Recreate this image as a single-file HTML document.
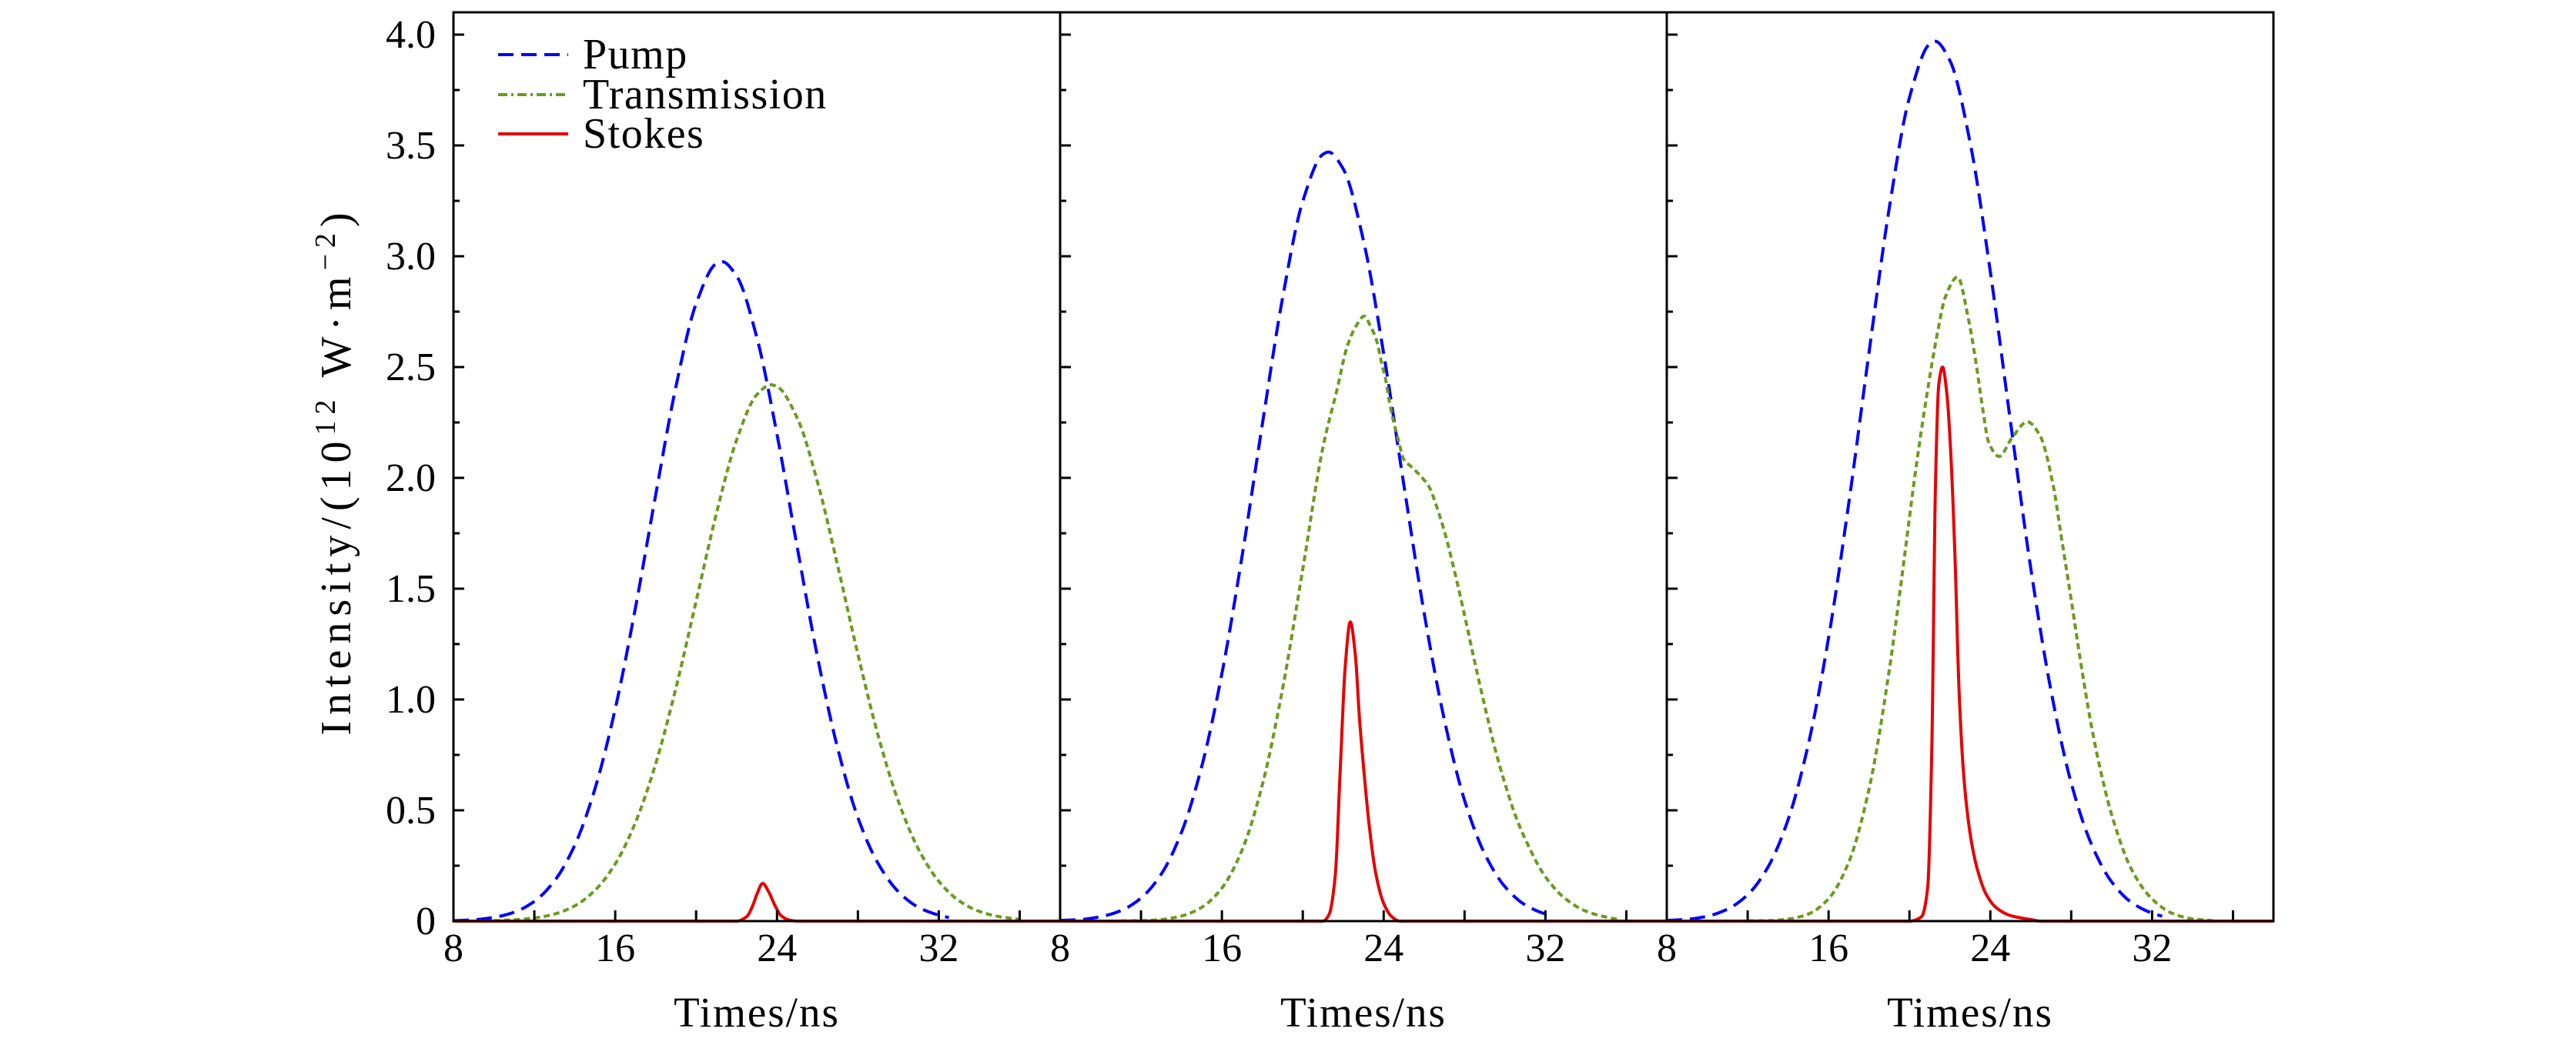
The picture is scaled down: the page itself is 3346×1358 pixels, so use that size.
<!DOCTYPE html>
<html><head><meta charset="utf-8"><style>
html,body{margin:0;padding:0;background:#fff;}
svg{display:block;font-family:"Liberation Serif",serif;}
</style></head><body>
<svg id="chart" xmlns="http://www.w3.org/2000/svg" width="3346" height="1358" viewBox="0 0 3346 1358">
<g id="curves"></g>
<g id="axes"></g>
<text transform="translate(455,612) rotate(-90)" text-anchor="middle" font-size="56" letter-spacing="8">Intensity/(10<tspan font-size="38" dy="-20">12</tspan><tspan dy="20"> W·m</tspan><tspan font-size="38" dy="-20">−2</tspan><tspan dy="20">)</tspan></text>
<g>
<line x1="647" y1="71" x2="738" y2="71" stroke="#0000ff" stroke-width="4" stroke-dasharray="20 10"/>
<text x="757" y="89" font-size="56" letter-spacing="1.5">Pump</text>
<line x1="647" y1="123" x2="738" y2="123" stroke="#6b9b1e" stroke-width="4" stroke-dasharray="12 5 3 5"/>
<text x="757" y="141" font-size="56" letter-spacing="1.5">Transmission</text>
<line x1="647" y1="174" x2="738" y2="174" stroke="#e60000" stroke-width="4"/>
<text x="757" y="192" font-size="56" letter-spacing="1.5">Stokes</text>
</g>
</svg>
<script>
// ---- data (time in ns, intensity in 1e12 W/m^2) ----
const pumpT1 = [8,9,10,11,12,13,14,15,16,17,18,19,20,21,21.27,22,23,24,25,26,27,28,29,30,31,32,32.5];
const pumpV1 = [0.002,0.006,0.017,0.040,0.089,0.182,0.343,0.598,0.958,1.414,1.923,2.411,2.786,2.967,2.976,2.911,2.634,2.196,1.687,1.193,0.780,0.467,0.260,0.133,0.062,0.027,0.016];
const pumpT2 = [8,9,10,11,12,13,14,15,16,17,18,19,20,21,21.27,22,23,24,25,26,27,28,29,30,31,32,32.4];
const pumpV2 = [0.003,0.007,0.020,0.047,0.104,0.212,0.400,0.697,1.117,1.648,2.242,2.811,3.248,3.460,3.470,3.394,3.071,2.561,1.967,1.391,0.909,0.545,0.303,0.155,0.073,0.032,0.022];
const pumpT3 = [8,9,10,11,12,13,14,15,16,17,18,19,20,21,21.27,22,23,24,25,26,27,28,29,30,31,32,32.5];
const pumpV3 = [0.003,0.008,0.022,0.054,0.119,0.243,0.458,0.798,1.278,1.886,2.565,3.216,3.716,3.958,3.970,3.883,3.513,2.930,2.251,1.592,1.040,0.623,0.347,0.177,0.083,0.036,0.022];

const transT1 = [10,11,12,13,14,15,16,17,18,19,20,21,22,23,23.7,24,25,26,27,28,29,30,31,32,33,34,35,36];
const transV1 = [0.002,0.006,0.014,0.032,0.069,0.139,0.258,0.445,0.710,1.051,1.443,1.838,2.170,2.375,2.420,2.412,2.270,1.982,1.604,1.204,0.838,0.541,0.324,0.180,0.092,0.044,0.020,0.008];
const transT2 = [11,12,13,14,15,16,17,18,19,20,21,21.69,22.2,22.64,23.04,23.34,23.66,23.91,24.1,24.29,24.48,24.74,24.99,25.37,25.88,26.26,26.64,27,27.5,28,28.5,29,29.5,30,30.5,31,32,33,34,35,35.6];
const transV2 = [0.001,0.002,0.007,0.023,0.062,0.149,0.321,0.615,1.048,1.588,2.139,2.397,2.594,2.686,2.730,2.686,2.617,2.513,2.443,2.340,2.258,2.166,2.084,2.050,2.003,1.957,1.865,1.760,1.580,1.380,1.170,0.970,0.780,0.620,0.480,0.370,0.200,0.100,0.045,0.018,0.008];
const transT3 = [12,13,14,15,16,17,18,19,19.5,20,20.22,20.75,21.39,21.77,22.38,22.91,23.29,23.61,23.92,24.43,25.07,25.83,26.46,27.1,27.5,28,28.5,29,29.5,30,31,32,33,34,35];
const transV3 = [0.001,0.002,0.009,0.032,0.101,0.266,0.595,1.131,1.465,1.820,1.976,2.310,2.656,2.815,2.906,2.720,2.520,2.320,2.160,2.097,2.180,2.253,2.190,1.970,1.740,1.450,1.150,0.880,0.660,0.480,0.230,0.100,0.035,0.010,0.002];

const stokesT1 = [8,22,22.5,22.8,23,23.29,23.6,23.9,24.2,24.6,25,38];
const stokesV1 = [0,0,0.02,0.07,0.12,0.17,0.13,0.07,0.025,0.005,0,0];
const stokesT2 = [8,21,21.3,21.6,21.86,22.1,22.35,22.6,22.8,23,23.3,23.6,24,24.4,24.8,38];
const stokesV2 = [0,0,0.03,0.2,0.7,1.15,1.35,1.2,0.92,0.7,0.42,0.22,0.08,0.02,0,0];
const stokesT3 = [8,20,20.6,20.9,21.1,21.29,21.45,21.64,21.85,22.05,22.25,22.45,22.65,22.85,23.1,23.4,23.8,24.3,25,26,26.5,38];
const stokesV3 = [0,0,0.02,0.15,0.75,1.98,2.42,2.5,2.38,2.1,1.65,1.05,0.7,0.5,0.34,0.22,0.12,0.06,0.025,0.007,0,0];

const xTickVals = [8,12,16,20,24,28,32,36];
const xTickLabels = ["8","","16","","24","","32",""];
const yTickVals = [0,0.25,0.5,0.75,1,1.25,1.5,1.75,2,2.25,2.5,2.75,3,3.25,3.5,3.75,4];
const yTickLabels = ["0","","0.5","","1.0","","1.5","","2.0","","2.5","","3.0","","3.5","","4.0"];

// ---- layout ----
const NS = "http://www.w3.org/2000/svg";
const panelLeft = [589,1377,2165];
const panelW = 788, yBottom = 1197, yTop = 16;
const xMin = 8, xMax = 38, yPerUnit = 288;
function xScale(p, t){ return panelLeft[p] + (t - xMin) / (xMax - xMin) * panelW; }
function yScale(v){ return yBottom - v * yPerUnit; }

function mk(tag, attrs, parent){
  const e = document.createElementNS(NS, tag);
  for (const k in attrs) e.setAttribute(k, attrs[k]);
  parent.appendChild(e);
  return e;
}

function monotone(xs, ys){
  const n = xs.length, d = [], m = new Array(n);
  for (let i=0;i<n-1;i++) d.push((ys[i+1]-ys[i])/(xs[i+1]-xs[i]));
  m[0]=d[0]; m[n-1]=d[n-2];
  for (let i=1;i<n-1;i++){
    if (d[i-1]*d[i] <= 0) m[i]=0;
    else { const w1=2*(xs[i+1]-xs[i])+(xs[i]-xs[i-1]), w2=(xs[i+1]-xs[i])+2*(xs[i]-xs[i-1]);
      m[i]=(w1+w2)/(w1/d[i-1]+w2/d[i]); }
  }
  return function(x){
    let i=0; while(i<n-2 && x>xs[i+1]) i++;
    const h=xs[i+1]-xs[i], s=(x-xs[i])/h;
    const h00=2*s*s*s-3*s*s+1, h10=s*s*s-2*s*s+s, h01=-2*s*s*s+3*s*s, h11=s*s*s-s*s;
    return h00*ys[i]+h10*h*m[i]+h01*ys[i+1]+h11*h*m[i+1];
  };
}

function curvePath(p, ts, vs){
  const f = monotone(ts, vs);
  const t0 = ts[0], t1 = ts[ts.length-1];
  let dstr = "";
  const steps = Math.ceil((t1-t0)/0.02);
  for (let k=0;k<=steps;k++){
    const t = t0 + (t1-t0)*k/steps;
    const v = Math.max(0, f(t));
    dstr += (k?"L":"M") + xScale(p,t).toFixed(2) + "," + yScale(v).toFixed(2);
  }
  return dstr;
}

const curves = document.getElementById("curves");
const series = [
  {name:"pump", T:[pumpT1,pumpT2,pumpT3], V:[pumpV1,pumpV2,pumpV3], stroke:"#0000ff", dash:"20 10"},
  {name:"transmission", T:[transT1,transT2,transT3], V:[transV1,transV2,transV3], stroke:"#6b9b1e", dash:"8 5"},
  {name:"stokes", T:[stokesT1,stokesT2,stokesT3], V:[stokesV1,stokesV2,stokesV3], stroke:"#e60000", dash:"none"}
];
for (let p=0;p<3;p++){
  for (const s of series){
    const el = mk("path", {d: curvePath(p, s.T[p], s.V[p]), fill:"none", stroke:s.stroke, "stroke-width":4, "stroke-dasharray":s.dash, "stroke-linejoin":"round"}, curves);
    
    
  }
}

const axes = document.getElementById("axes");
for (let p=0;p<3;p++){
  const fr = mk("rect", {x:panelLeft[p], y:yTop, width:panelW, height:yBottom-yTop, fill:"none", stroke:"#000", "stroke-width":3}, axes);
  
  
  for (let i=0;i<xTickVals.length;i++){
    const x = xScale(p, xTickVals[i]);
    const tk = mk("line", {x1:x, y1:yBottom, x2:x, y2:yBottom-14, stroke:"#000", "stroke-width":3}, axes);
    
    
    if (xTickLabels[i]){
      const tl = mk("text", {x:x, y:1249, "text-anchor":"middle", "font-size":52}, axes);
      tl.textContent = xTickLabels[i];
      
      
    }
  }
  for (let i=0;i<yTickVals.length;i++){
    const y = yScale(yTickVals[i]);
    const len = yTickLabels[i] ? 14 : 8;
    const tk = mk("line", {x1:panelLeft[p], y1:y, x2:panelLeft[p]+len, y2:y, stroke:"#000", "stroke-width":3}, axes);
    
    
    if (p===0 && yTickLabels[i]){
      const tl = mk("text", {x:566, y:y+17, "text-anchor":"end", "font-size":52}, axes);
      tl.textContent = yTickLabels[i];
      
      
    }
  }
  const xt = mk("text", {x:panelLeft[p]+panelW/2, y:1334, "text-anchor":"middle", "font-size":55, "letter-spacing":2}, axes);
  xt.textContent = "Times/ns";
  
  
}
</script>
</body></html>
